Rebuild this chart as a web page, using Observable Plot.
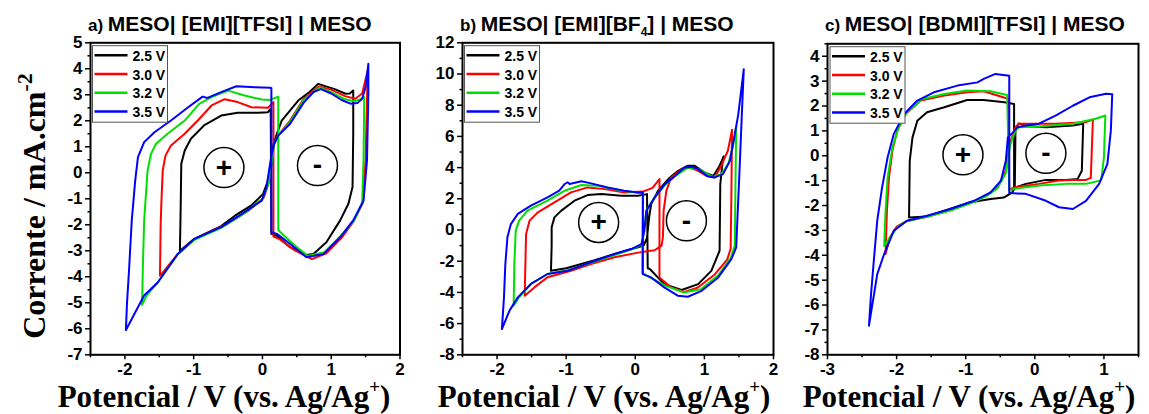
<!DOCTYPE html>
<html>
<head>
<meta charset="utf-8">
<script src="https://cdn.jsdelivr.net/npm/d3@7"></script>
<script src="https://cdn.jsdelivr.net/npm/@observablehq/plot@0.6"></script>
<style>
  html, body { margin: 0; padding: 0; background: #fff; }
  #root { position: relative; width: 1149px; height: 414px; overflow: hidden; background: #fff; }
  #root > svg { position: absolute; top: 0; }
  #overlay { left: 0; top: 0; pointer-events: none; }
</style>
</head>
<body>
<div id="root"></div>
<script>
// ---------- series ----------
const seriesNames = ["2.5 V", "3.0 V", "3.2 V", "3.5 V"];
const seriesColors = ["#000000", "#ff0000", "#00e000", "#0000ff"];

// ---------- panel a: MESO| [EMI][TFSI] | MESO ----------
const a25 = [[-1.20,-3.00],[-1.19,-1.5],[-1.18,0.35],[-1.13,0.86],[-1.04,1.31],[-0.85,1.82],[-0.60,2.20],[-0.36,2.31],[-0.06,2.31],[0.08,2.33],[0.12,2.47],[0.13,-2.35],[0.21,-2.42],[0.40,-2.86],[0.64,-3.16],[0.74,-3.12],[0.93,-2.67],[1.13,-1.83],[1.25,-1.19],[1.31,-0.55],[1.32,1.5],[1.32,3.17],[1.27,3.05],[1.21,3.04],[1.05,3.22],[0.81,3.42],[0.68,3.1],[0.52,2.78],[0.28,2.01],[0.21,1.5],[0.16,1.1],[0.12,0.2],[0.08,-0.3],[0.01,-0.81],[-0.16,-1.25],[-0.4,-1.65],[-0.6,-2.05],[-0.99,-2.54],[-1.20,-3.00]];
const a30 = [[-1.49,-3.96],[-1.48,-2.0],[-1.47,-1.19],[-1.45,0.09],[-1.41,0.66],[-1.33,1.05],[-1.13,1.50],[-0.94,2.01],[-0.74,2.59],[-0.55,2.83],[-0.36,2.72],[-0.16,2.52],[0.08,2.50],[0.16,2.72],[0.16,-2.45],[0.25,-2.55],[0.45,-2.95],[0.72,-3.32],[0.93,-3.1],[1.15,-2.5],[1.33,-1.85],[1.46,-1.15],[1.50,0.5],[1.52,2.8],[1.53,3.93],[1.45,3.05],[1.35,2.85],[1.2,2.95],[1.0,3.2],[0.82,3.32],[0.6,2.85],[0.4,2.0],[0.23,1.45],[0.17,1.1],[0.13,0.3],[0.09,-0.4],[0.02,-0.95],[-0.2,-1.45],[-0.5,-1.95],[-0.99,-2.56],[-1.23,-3.12],[-1.49,-3.96]];
const a32 = [[-1.75,-5.08],[-1.74,-3.76],[-1.72,-1.83],[-1.67,0.09],[-1.62,0.73],[-1.55,1.11],[-1.38,1.50],[-1.13,2.01],[-0.92,2.65],[-0.74,2.91],[-0.50,3.16],[-0.26,2.97],[-0.01,2.82],[0.11,2.80],[0.23,2.93],[0.23,-2.2],[0.30,-2.38],[0.45,-2.75],[0.66,-3.2],[0.9,-3.05],[1.13,-2.45],[1.33,-1.85],[1.45,-1.15],[1.47,0.5],[1.48,2.91],[1.42,2.82],[1.33,2.75],[1.18,2.85],[1.0,3.1],[0.83,3.28],[0.6,2.8],[0.4,1.95],[0.23,1.45],[0.17,1.1],[0.13,0.3],[0.09,-0.4],[0.0,-1.0],[-0.26,-1.55],[-0.6,-2.12],[-0.99,-2.58],[-1.23,-3.12],[-1.52,-4.21],[-1.68,-4.7],[-1.75,-5.08]];
const a35 = [[-1.985,-6.05],[-1.97,-5.04],[-1.94,-3.76],[-1.90,-1.83],[-1.85,-0.30],[-1.81,0.60],[-1.72,1.18],[-1.57,1.56],[-1.33,2.01],[-1.08,2.52],[-0.87,2.93],[-0.80,2.88],[-0.60,3.10],[-0.38,3.33],[-0.11,3.29],[0.11,3.27],[0.13,3.25],[0.13,-2.28],[0.21,-2.35],[0.40,-2.73],[0.64,-3.25],[0.89,-3.12],[1.13,-2.48],[1.32,-1.83],[1.47,-1.07],[1.52,0.47],[1.54,3.04],[1.54,4.19],[1.50,3.3],[1.45,2.85],[1.38,2.68],[1.28,2.66],[1.15,2.8],[1.0,3.05],[0.85,3.22],[0.74,3.1],[0.6,2.7],[0.40,1.88],[0.23,1.43],[0.17,1.12],[0.12,0.5],[0.09,0.0],[0.06,-0.55],[-0.01,-1.07],[-0.26,-1.51],[-0.60,-2.09],[-0.99,-2.54],[-1.23,-3.12],[-1.52,-4.21],[-1.72,-4.72],[-1.86,-5.42],[-1.985,-6.05]];

// ---------- panel b: MESO| [EMI][BF4] | MESO ----------
const b25 = [[-1.22,-2.61],[-1.21,-1.0],[-1.21,0.17],[-1.17,0.81],[-1.07,1.24],[-0.88,1.88],[-0.69,2.24],[-0.49,2.30],[-0.20,2.20],[0.04,2.20],[0.17,2.30],[0.18,-2.45],[0.21,-2.5],[0.42,-3.47],[0.67,-3.85],[0.91,-3.47],[1.10,-2.62],[1.22,-1.33],[1.23,2.94],[1.27,4.65],[1.28,4.72],[1.22,4.12],[1.13,3.46],[1.00,3.69],[0.86,4.12],[0.76,4.12],[0.62,3.79],[0.50,3.37],[0.33,2.52],[0.23,1.66],[0.2,0.8],[0.17,-0.5],[0.12,-1.0],[0.04,-1.11],[-0.2,-1.4],[-0.6,-1.95],[-1.0,-2.45],[-1.22,-2.61]];
const b30 = [[-1.60,-4.21],[-1.59,-2.18],[-1.58,-0.26],[-1.53,0.60],[-1.41,1.13],[-1.17,1.77],[-0.93,2.41],[-0.69,2.73],[-0.44,2.62],[-0.16,2.41],[0.11,2.46],[0.25,2.7],[0.35,3.26],[0.35,-3.04],[0.52,-3.68],[0.71,-3.97],[0.9,-3.7],[1.15,-2.85],[1.33,-1.9],[1.38,-1.2],[1.39,2.0],[1.40,6.42],[1.34,5.08],[1.23,4.0],[1.15,3.37],[1.03,3.46],[0.91,3.79],[0.79,4.0],[0.67,3.9],[0.52,3.37],[0.45,2.52],[0.41,1.23],[0.40,-0.47],[0.38,-1.0],[0.28,-1.3],[0.17,-1.36],[0.04,-1.45],[-0.30,-1.75],[-0.64,-2.18],[-0.93,-2.61],[-1.27,-3.03],[-1.46,-3.68],[-1.60,-4.21]];
const b32 = [[-1.76,-4.85],[-1.75,-2.18],[-1.73,-0.04],[-1.68,0.6],[-1.56,1.24],[-1.27,1.88],[-1.02,2.52],[-0.78,2.88],[-0.54,2.84],[-0.20,2.52],[0.11,2.35],[0.10,-2.75],[0.2,-3.0],[0.45,-3.6],[0.7,-4.0],[0.95,-3.8],[1.2,-2.9],[1.38,-1.8],[1.44,-1.0],[1.45,3.0],[1.46,6.6],[1.41,5.3],[1.35,4.3],[1.25,3.6],[1.12,3.4],[0.92,3.9],[0.76,4.0],[0.56,3.4],[0.43,2.9],[0.28,2.1],[0.16,1.25],[0.13,0.0],[0.09,-0.95],[-0.06,-1.25],[-0.30,-1.6],[-0.64,-2.1],[-0.98,-2.58],[-1.27,-2.82],[-1.51,-3.46],[-1.68,-4.3],[-1.76,-4.85]];
const b35 = [[-1.93,-6.35],[-1.90,-4.32],[-1.88,-2.18],[-1.85,-0.47],[-1.80,0.38],[-1.70,1.03],[-1.51,1.56],[-1.27,2.09],[-1.10,2.52],[-1.02,2.95],[-0.98,3.06],[-0.95,2.95],[-0.78,3.12],[-0.64,2.99],[-0.40,2.73],[-0.16,2.52],[0.04,2.41],[0.11,2.41],[0.11,-2.83],[0.23,-3.04],[0.42,-3.68],[0.62,-4.22],[0.76,-4.28],[0.96,-3.90],[1.20,-3.04],[1.39,-1.87],[1.46,-1.12],[1.50,2.94],[1.54,7.21],[1.57,10.31],[1.49,7.4],[1.44,6.15],[1.37,4.44],[1.27,3.58],[1.15,3.37],[1.05,3.44],[0.91,3.90],[0.81,4.05],[0.71,4.01],[0.57,3.44],[0.43,2.94],[0.28,2.08],[0.16,1.23],[0.13,-0.05],[0.09,-0.90],[-0.06,-1.22],[-0.30,-1.54],[-0.64,-2.07],[-0.98,-2.61],[-1.27,-2.82],[-1.51,-3.46],[-1.70,-4.32],[-1.82,-5.17],[-1.93,-6.35]];

// ---------- panel c: MESO| [BDMI][TFSI] | MESO ----------
const c25 = [[-1.82,-2.48],[-1.81,-0.2],[-1.77,0.74],[-1.70,1.41],[-1.56,1.75],[-1.31,1.95],[-0.98,2.24],[-0.74,2.24],[-0.44,2.15],[-0.30,2.08],[-0.30,-1.3],[-0.13,-1.13],[0.16,-0.97],[0.45,-0.97],[0.62,-0.93],[0.68,-0.6],[0.70,1.29],[0.55,1.22],[0.16,1.15],[-0.13,1.2],[-0.23,1.3],[-0.28,1.1],[-0.29,-1.3],[-0.33,-1.48],[-0.45,-1.68],[-0.64,-1.74],[-0.93,-1.87],[-1.22,-2.13],[-1.56,-2.44],[-1.82,-2.48]];
const c30 = [[-2.16,-3.95],[-2.14,-2.21],[-2.11,-0.87],[-2.06,0.22],[-1.99,1.01],[-1.87,1.68],[-1.65,2.22],[-1.31,2.42],[-0.98,2.55],[-0.74,2.59],[-0.54,2.42],[-0.39,2.29],[-0.37,-1.35],[-0.28,-1.26],[0.06,-1.13],[0.35,-0.99],[0.55,-0.97],[0.74,-0.97],[0.81,-0.89],[0.84,1.45],[0.74,1.35],[0.30,1.29],[-0.03,1.29],[-0.23,1.29],[-0.28,1.15],[-0.36,0.5],[-0.42,-0.6],[-0.54,-1.27],[-0.7,-1.6],[-0.9,-1.85],[-1.22,-2.18],[-1.56,-2.45],[-1.85,-2.62],[-2.0,-2.85],[-2.10,-3.3],[-2.16,-3.95]];
const c32 = [[-2.18,-3.62],[-2.16,-2.21],[-2.13,-0.87],[-2.06,0.34],[-1.97,1.14],[-1.85,1.75],[-1.63,2.28],[-1.31,2.48],[-0.98,2.62],[-0.64,2.59],[-0.40,2.44],[-0.37,-1.4],[-0.30,-1.33],[0.06,-1.2],[0.45,-1.13],[0.74,-1.13],[0.96,-0.99],[1.0,-0.06],[1.02,1.62],[0.88,1.49],[0.55,1.29],[0.06,1.18],[-0.23,1.15],[-0.28,1.02],[-0.36,0.4],[-0.42,-0.7],[-0.54,-1.3],[-0.7,-1.62],[-0.9,-1.88],[-1.22,-2.2],[-1.56,-2.45],[-1.85,-2.62],[-2.0,-2.9],[-2.10,-3.3],[-2.18,-3.62]];
const c35 = [[-2.40,-6.83],[-2.37,-5.56],[-2.33,-4.22],[-2.28,-2.61],[-2.21,-1.27],[-2.13,-0.06],[-2.04,0.88],[-1.89,1.68],[-1.70,2.22],[-1.46,2.55],[-1.12,2.82],[-0.83,2.95],[-0.74,3.09],[-0.57,3.29],[-0.37,3.22],[-0.37,3.0],[-0.37,-1.50],[-0.13,-1.53],[0.16,-1.81],[0.35,-2.07],[0.55,-2.14],[0.74,-1.81],[0.93,-1.13],[1.05,-0.33],[1.10,1.02],[1.12,2.47],[1.03,2.49],[0.79,2.35],[0.55,2.01],[0.30,1.61],[0.06,1.29],[-0.13,1.22],[-0.25,1.15],[-0.33,0.9],[-0.39,0.74],[-0.42,-0.20],[-0.49,-1.0],[-0.64,-1.47],[-0.88,-1.81],[-1.22,-2.14],[-1.56,-2.41],[-1.85,-2.61],[-2.04,-3.01],[-2.18,-3.95],[-2.28,-4.76],[-2.40,-6.83]];

// ---------- annotations (electrode signs) ----------
const notesA = [{x: -0.56, y: 0.20, s: "+"}, {x: 0.80, y: 0.28, s: "-"}];
const notesB = [{x: -0.53, y: 0.48, s: "+"}, {x: 0.74, y: 0.59, s: "-"}];
const notesC = [{x: -1.04, y: 0.04, s: "+"}, {x: 0.16, y: 0.10, s: "-"}];

// ---------- axes / ticks ----------
const xMajorAB = [-2, -1, 0, 1, 2];
const xMinorAB = [-2.5, -1.5, -0.5, 0.5, 1.5];
const yMajorA = [-7, -6, -5, -4, -3, -2, -1, 0, 1, 2, 3, 4, 5];
const yMinorA = [-6.5, -5.5, -4.5, -3.5, -2.5, -1.5, -0.5, 0.5, 1.5, 2.5, 3.5, 4.5];
const yMajorB = [-8, -6, -4, -2, 0, 2, 4, 6, 8, 10, 12];
const yMinorB = [-7, -5, -3, -1, 1, 3, 5, 7, 9, 11];
const xMajorC = [-3, -2, -1, 0, 1];
const xMinorC = [-2.5, -1.5, -0.5, 0.5, 1.5];
const yMajorC = [-8, -7, -6, -5, -4, -3, -2, -1, 0, 1, 2, 3, 4];
const yMinorC = [-7.5, -6.5, -5.5, -4.5, -3.5, -2.5, -1.5, -0.5, 0.5, 1.5, 2.5, 3.5, 4.5];

const titleA = ["a)", "MESO| [EMI][TFSI] | MESO"];
const titleB = ["b)", "MESO| [EMI][BF", "4", "] | MESO"];
const titleC = ["c)", "MESO| [BDMI][TFSI] | MESO"];
const yLabelText = ["Corrente / mA.cm", "-2"];
const xLabelText = ["Potencial / V (vs. Ag/Ag", "+", ")"];

const H = 414;
const ML = 45, MR = 12;

const panels = [
  {fl: 89.5, fw: 309.5, mt: 42.3, fb: 354.3, xd: [-2.5, 2], yd: [-7, 5], curves: [a25, a30, a32, a35], notes: notesA,
   xMaj: xMajorAB, xMin: xMinorAB, yMaj: yMajorA, yMin: yMinorA, title: titleA, titleX: 88, xLabelX: 224},
  {fl: 461.5, fw: 311, mt: 42.3, fb: 354.3, xd: [-2.5, 2], yd: [-8, 12], curves: [b25, b30, b32, b35], notes: notesB,
   xMaj: xMajorAB, xMin: xMinorAB, yMaj: yMajorB, yMin: yMinorB, title: titleB, titleX: 460, xLabelX: 604},
  {fl: 827, fw: 311, mt: 43.3, fb: 354.3, xd: [-3, 1.5], yd: [-8, 4.5], curves: [c25, c30, c32, c35], notes: notesC,
   xMaj: xMajorC, xMin: xMinorC, yMaj: yMajorC, yMin: yMinorC, title: titleC, titleX: 825, xLabelX: 969}
];

const root = document.getElementById("root");
const FONT = "'Liberation Sans', Arial, sans-serif";
const SERIF = "'Liberation Serif', 'Times New Roman', serif";

for (const p of panels) {
  const svg = Plot.plot({
    width: ML + p.fw + MR,
    height: H,
    marginLeft: ML,
    marginRight: MR,
    marginTop: p.mt,
    marginBottom: H - p.fb,
    x: {domain: p.xd},
    y: {domain: p.yd},
    style: {fontFamily: FONT, background: "transparent", overflow: "visible", color: "black"},
    marks: [
      Plot.axisY(p.yMin, {tickSize: 2.5, tickFormat: () => "", label: null, strokeWidth: 1.5}),
      Plot.axisY(p.yMaj, {tickSize: 5, tickPadding: 3, tickFormat: d => String(d), label: null, strokeWidth: 1.5, fontSize: 17, fontWeight: "bold"}),
      Plot.axisX(p.xMin, {tickSize: 3, tickFormat: () => "", label: null, strokeWidth: 1.5}),
      Plot.axisX(p.xMaj, {tickSize: 5, tickPadding: 3, tickFormat: d => String(d), label: null, strokeWidth: 1.5, fontSize: 17, fontWeight: "bold"}),
      ...p.curves.map((c, i) => Plot.line(c, {x: d => d[0], y: d => d[1], stroke: seriesColors[i], strokeWidth: 2, strokeLinejoin: "round"})),
      Plot.dot(p.notes, {x: "x", y: "y", r: 20, stroke: "black", strokeWidth: 1.5, fill: "none"}),
      Plot.text(p.notes, {x: "x", y: "y", text: "s", fontSize: 28, fontWeight: "bold", fontFamily: FONT}),
      Plot.frame({stroke: "black", strokeWidth: 2})
    ]
  });
  svg.style.left = (p.fl - ML) + "px";
  root.appendChild(svg);
}

// ---------- overlay: titles, legends, axis labels ----------
const NS = "http://www.w3.org/2000/svg";
const ov = document.createElementNS(NS, "svg");
ov.setAttribute("id", "overlay");
ov.setAttribute("width", 1149);
ov.setAttribute("height", H);
root.appendChild(ov);

function el(name, attrs, parent) {
  const e = document.createElementNS(NS, name);
  for (const k in attrs) e.setAttribute(k, attrs[k]);
  (parent || ov).appendChild(e);
  return e;
}
function tspan(parent, text, attrs) {
  const t = el("tspan", attrs || {}, parent);
  t.textContent = text;
  return t;
}

for (const p of panels) {
  // title
  const t = el("text", {x: p.titleX, y: 31, "font-family": FONT, "font-weight": "bold", "font-size": 21, fill: "black"});
  tspan(t, p.title[0] + " ", {"font-size": 17});
  tspan(t, p.title[1]);
  if (p.title.length > 2) {
    tspan(t, p.title[2], {"font-size": 12, dy: 5});
    tspan(t, p.title[3], {dy: -5});
  }
  // legend
  const lx = p.fl + 3, ly = p.mt + 3.4;
  el("rect", {x: lx, y: ly, width: 75, height: 76.5, fill: "white", stroke: "#555", "stroke-width": 1});
  seriesNames.forEach((name, i) => {
    const yy = ly + 9.5 + i * 18.8;
    el("line", {x1: p.fl + 5, x2: p.fl + 38, y1: yy, y2: yy, stroke: seriesColors[i], "stroke-width": 2.5});
    const tx = el("text", {x: p.fl + 43, y: yy + 5.5, "font-family": FONT, "font-weight": "bold", "font-size": 14, fill: "black"});
    tx.textContent = name;
  });
  // x label
  const xl = el("text", {x: p.xLabelX, y: 406.5, "text-anchor": "middle", "font-family": SERIF, "font-weight": "bold", "font-size": 31, fill: "black"});
  tspan(xl, xLabelText[0]);
  tspan(xl, xLabelText[1], {"font-size": 19, dy: -14});
  tspan(xl, xLabelText[2], {dy: 14});
}

// y label
const yl = el("text", {transform: "translate(45,206) rotate(-90)", "text-anchor": "middle", "font-family": SERIF, "font-weight": "bold", "font-size": 32, fill: "black"});
tspan(yl, yLabelText[0]);
tspan(yl, yLabelText[1], {"font-size": 22, dy: -13});
</script>
</body>
</html>
